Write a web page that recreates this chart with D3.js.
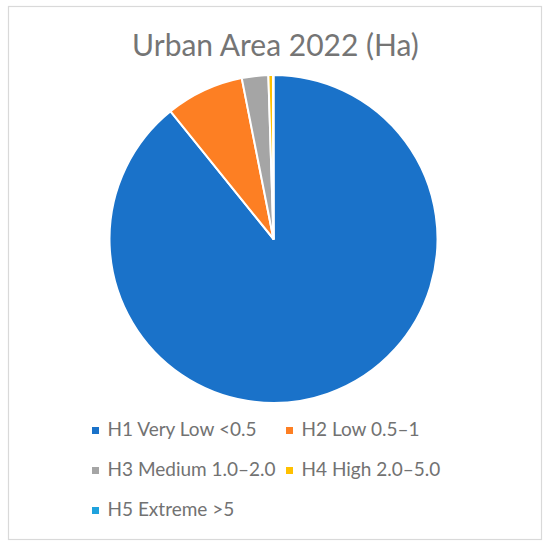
<!DOCTYPE html>
<html><head><meta charset="utf-8">
<script src="https://cdn.jsdelivr.net/npm/d3@7"></script>
<style>body{margin:0;background:#fff}</style>
</head><body>
<script>
const categories = ["H1 Very Low <0.5", "H2 Low 0.5\u20131", "H3 Medium 1.0\u20132.0", "H4 High 2.0\u20135.0", "H5 Extreme >5"];
const values = [89.2, 7.7, 2.6, 0.45, 0.05];
const colors = ["#1a72c9", "#fd7f23", "#a5a5a5", "#ffc000", "#1fa2dd"];
const title = "Urban Area 2022 (Ha)";

const W = 550, H = 549;
const svg = d3.select("body").append("svg").attr("width", W).attr("height", H);
svg.append("rect").attr("x", 8.5).attr("y", 6.5).attr("width", 533).attr("height", 533)
  .attr("fill", "#fff").attr("stroke", "#d9d9d9").attr("stroke-width", 1.2);

const font = "Lato, 'Open Sans', sans-serif";
svg.append("text").attr("x", 275.5).attr("y", 56).attr("text-anchor", "middle")
  .attr("font-family", font).attr("font-size", 30).attr("fill", "#757575").text(title);

const cx = 273.5, cy = 239, r = 164;
const pie = d3.pie().sort(null).value(d => d.v);
const arc = d3.arc().innerRadius(0).outerRadius(r);
const data = categories.map((c, i) => ({c, v: values[i], col: colors[i]}));
svg.append("g").attr("transform", `translate(${cx},${cy})`)
  .selectAll("path").data(pie(data)).join("path")
  .attr("d", arc).attr("fill", d => d.data.col)
  .attr("stroke", "#fff").attr("stroke-width", 2).attr("stroke-linejoin", "round");

const colX = [92, 286], rowY = [436, 476, 516];
const leg = svg.append("g");
data.forEach((d, i) => {
  const x = colX[i % 2], y = rowY[Math.floor(i / 2)];
  leg.append("rect").attr("x", x).attr("y", y - 9).attr("width", 7).attr("height", 7).attr("fill", d.col);
  leg.append("text").attr("x", x + 15.5).attr("y", y).attr("font-family", font)
    .attr("font-size", 19).attr("fill", "#727272").text(d.c);
});
</script>
</body></html>
